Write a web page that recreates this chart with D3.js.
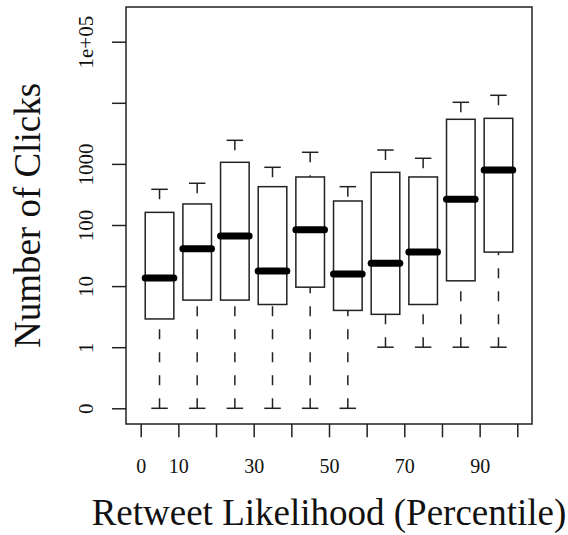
<!DOCTYPE html>
<html>
<head>
<meta charset="utf-8">
<script src="https://cdn.jsdelivr.net/npm/d3@7"></script>
<style>
  body { margin: 0; background: #fff; }
  svg { display: block; }
  text { font-family: "Liberation Serif", "Times New Roman", serif; fill: #111; }
</style>
</head>
<body>
<div id="chart"></div>
<script>
// box positions (percentile bins) and five-number summaries (clicks)
const positions = [5, 15, 25, 35, 45, 55, 65, 75, 85, 95];
const whiskerLow = [0, 0, 0, 0, 0, 0, 1, 1, 1, 1];
const q1 = [2.9, 5.9, 5.9, 5.0, 9.6, 4.0, 3.45, 5.0, 12.2, 36];
const medians = [13.6, 41, 66, 17.7, 84, 15.8, 23.6, 36, 264, 794];
const q3 = [161, 221, 1062, 424, 611, 247, 728, 611, 5370, 5570];
const whiskerHigh = [384, 482, 2432, 880, 1549, 424, 1687, 1236, 10190, 13270];

const yTicks = [0, 1, 10, 100, 1000, 10000, 100000];
const yTickLabels = ["0", "1", "10", "100", "1000", "", "1e+05"];
const xTicks = [0, 10, 20, 30, 40, 50, 60, 70, 80, 90, 100];
const xTickLabels = ["0", "10", "", "30", "", "50", "", "70", "", "90", ""];

const W = 568, H = 535;
const frame = { left: 126, top: 7, right: 532, bottom: 424 };

const svg = d3.select("#chart").append("svg")
  .attr("width", W)
  .attr("height", H)
  .attr("viewBox", `0 0 ${W} ${H}`);

svg.append("rect").attr("width", W).attr("height", H).attr("fill", "#fff");

const xScale = d3.scaleLinear().domain([0, 100]).range([140.7, 517.3]);
// zero clicks are drawn one decade below 1
const logScale = d3.scaleLog().domain([0.1, 100000]).range([408.3, 41.7]);
const y = (v) => logScale(v <= 0 ? 0.1 : v);

const boxW = 28.6, capW = 16.5;

// plot frame
svg.append("rect")
  .attr("x", frame.left)
  .attr("y", frame.top)
  .attr("width", frame.right - frame.left)
  .attr("height", frame.bottom - frame.top)
  .attr("fill", "none")
  .attr("stroke", "#222")
  .attr("stroke-width", 1.5);

// y axis
const yAxis = d3.axisLeft(logScale)
  .tickValues(yTicks.map((v) => (v <= 0 ? 0.1 : v)))
  .tickFormat((d, i) => yTickLabels[i])
  .tickSize(14);
const yAxisGroup = svg.append("g")
  .attr("transform", `translate(${frame.left}, 0)`)
  .call(yAxis);
yAxisGroup.select(".domain").remove();
yAxisGroup.selectAll(".tick line").attr("stroke", "#222").attr("stroke-width", 1.5);
yAxisGroup.selectAll(".tick text")
  .attr("x", null)
  .attr("dy", null)
  .attr("text-anchor", "middle")
  .attr("transform", "translate(-33, 0) rotate(-90)")
  .attr("font-size", "21px")
  .attr("fill", "#111");

// x axis
const xAxis = d3.axisBottom(xScale)
  .tickValues(xTicks)
  .tickFormat((d, i) => xTickLabels[i])
  .tickSize(13.3);
const xAxisGroup = svg.append("g")
  .attr("transform", `translate(0, ${frame.bottom})`)
  .call(xAxis);
xAxisGroup.select(".domain").remove();
xAxisGroup.selectAll(".tick line").attr("stroke", "#222").attr("stroke-width", 1.5);
xAxisGroup.selectAll(".tick text")
  .attr("dy", null)
  .attr("y", 49)
  .attr("font-size", "20px")
  .attr("fill", "#111");

// axis titles
svg.append("text")
  .attr("x", (frame.left + frame.right) / 2)
  .attr("y", 525)
  .attr("text-anchor", "middle")
  .attr("font-size", "37px")
  .text("Retweet Likelihood (Percentile)");

svg.append("text")
  .attr("transform", `translate(40, ${(frame.top + frame.bottom) / 2}) rotate(-90)`)
  .attr("text-anchor", "middle")
  .attr("font-size", "37px")
  .text("Number of Clicks");

// boxes
const boxes = positions.map((p, i) => ({
  pos: p,
  lo: whiskerLow[i],
  q1: q1[i],
  med: medians[i],
  q3: q3[i],
  hi: whiskerHigh[i],
}));

const g = svg.append("g").attr("class", "boxes");
const box = g.selectAll("g.box").data(boxes).enter().append("g").attr("class", "box");

// whiskers are dashed from the cap toward the box
box.append("line")
  .attr("x1", (d) => xScale(d.pos))
  .attr("x2", (d) => xScale(d.pos))
  .attr("y1", (d) => y(d.lo))
  .attr("y2", (d) => y(d.q1))
  .attr("stroke", "#222")
  .attr("stroke-width", 1.5)
  .attr("stroke-dasharray", "10,13");

box.append("line")
  .attr("x1", (d) => xScale(d.pos))
  .attr("x2", (d) => xScale(d.pos))
  .attr("y1", (d) => y(d.hi))
  .attr("y2", (d) => y(d.q3))
  .attr("stroke", "#222")
  .attr("stroke-width", 1.5)
  .attr("stroke-dasharray", "10,13");

// caps
["lo", "hi"].forEach((k) => {
  box.append("line")
    .attr("x1", (d) => xScale(d.pos) - capW / 2)
    .attr("x2", (d) => xScale(d.pos) + capW / 2)
    .attr("y1", (d) => y(d[k]))
    .attr("y2", (d) => y(d[k]))
    .attr("stroke", "#222")
    .attr("stroke-width", 1.5);
});

box.append("rect")
  .attr("x", (d) => xScale(d.pos) - boxW / 2)
  .attr("y", (d) => y(d.q3))
  .attr("width", boxW)
  .attr("height", (d) => y(d.q1) - y(d.q3))
  .attr("fill", "#fff")
  .attr("stroke", "#222")
  .attr("stroke-width", 1.5);

box.append("line")
  .attr("x1", (d) => xScale(d.pos) - boxW / 2)
  .attr("x2", (d) => xScale(d.pos) + boxW / 2)
  .attr("y1", (d) => y(d.med))
  .attr("y2", (d) => y(d.med))
  .attr("stroke", "#000")
  .attr("stroke-width", 7)
  .attr("stroke-linecap", "round");
</script>
</body>
</html>
